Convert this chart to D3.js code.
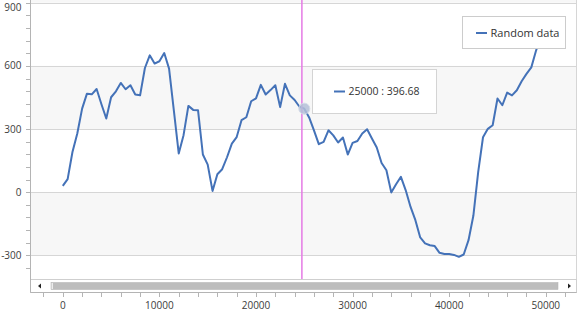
<!DOCTYPE html>
<html>
<head>
<meta charset="utf-8">
<script src="https://cdn.jsdelivr.net/npm/d3@7"></script>
<style>
    body { margin: 0; background: #ffffff; }
    text { font-family: "Open Sans", "Noto Sans", sans-serif; }
</style>
</head>
<body>
<div id="my_dataviz"></div>
<script>
// series (x every 500, y)
var xValues = [0, 500, 1000, 1500, 2000, 2500, 3000, 3500, 4000, 4500,
    5000, 5500, 6000, 6500, 7000, 7500, 8000, 8500, 9000, 9500,
    10000, 10500, 11000, 11500, 12000, 12500, 13000, 13500, 14000, 14500,
    15000, 15500, 16000, 16500, 17000, 17500, 18000, 18500, 19000, 19500,
    20000, 20500, 21000, 21500, 22000, 22500, 23000, 23500, 24000, 24500,
    25000, 25500, 26000, 26500, 27000, 27500, 28000, 28500, 29000, 29500,
    30000, 30500, 31000, 31500, 32000, 32500, 33000, 33500, 34000, 34500,
    35000, 35500, 36000, 36500, 37000, 37500, 38000, 38500, 39000, 39500,
    40000, 40500, 41000, 41500, 42000, 42500, 43000, 43500, 44000, 44500,
    45000, 45500, 46000, 46500, 47000, 47500, 48000, 48500, 49000, 49500, 50000];
var yValues = [30, 62, 191, 279, 397, 468, 465, 490, 418, 350,
    451, 479, 519, 489, 508, 464, 460, 590, 650, 611,
    622, 661, 587, 386, 184, 271, 410, 391, 389, 179,
    131, 6, 85, 109, 166, 231, 262, 342, 356, 432,
    446, 510, 464, 485, 508, 404, 515, 460, 438, 406,
    396.68, 355, 294, 228, 239, 294, 270, 236, 260, 179,
    234, 243, 279, 299, 255, 212, 139, 104, -1, 38,
    73, 9, -70, -133, -215, -243, -252, -256, -288, -294,
    -294, -298, -307, -296, -228, -112, 95, 261, 301, 318,
    445, 413, 473, 460, 484, 527, 562, 593, 674, 740, 800];
var seriesName = "Random data";

// axes
var yTickLabels = [-300, 0, 300, 600, 900];
var xTickLabels = [0, 10000, 20000, 30000, 40000, 50000];
var shadedBands = [[-300, 0], [300, 600], [900, 1200]];

// tracker
var trackerIndex = 50;
var crosshairX = 24750;

var data = xValues.map(function (d, i) { return { x: d, y: yValues[i] }; });

var width = 580, height = 310;
var plotLeft = 30.5, plotRight = 576.5, plotTop = 0, plotBottom = 292.5;
var scrollTop = 279.5;

var svg = d3.select("#my_dataviz")
    .append("svg")
    .attr("width", width)
    .attr("height", height);

var xScale = d3.scaleLinear().domain([-3344, 53178]).range([plotLeft, plotRight]);
var yScale = d3.scaleLinear().domain([-476.5, 913]).range([plotBottom, plotTop]);

// bands
svg.append("g")
    .selectAll("rect")
    .data(shadedBands)
    .enter()
    .append("rect")
    .attr("x", plotLeft)
    .attr("width", plotRight - plotLeft)
    .attr("y", function (d) { return Math.max(plotTop, yScale(d[1])); })
    .attr("height", function (d) { return yScale(d[0]) - Math.max(plotTop, yScale(d[1])); })
    .style("fill", "#f7f7f7");

// gridlines
svg.append("g")
    .selectAll("line")
    .data(yTickLabels)
    .enter()
    .append("line")
    .attr("x1", plotLeft)
    .attr("x2", plotRight)
    .attr("y1", function (d) { return Math.round(yScale(d)) + 0.5; })
    .attr("y2", function (d) { return Math.round(yScale(d)) + 0.5; })
    .style("stroke", "#d6d6d6");

// right border
svg.append("line")
    .attr("x1", plotRight).attr("x2", plotRight)
    .attr("y1", plotTop).attr("y2", plotBottom)
    .style("stroke", "#d6d6d6");

// line
svg.append("clipPath").attr("id", "plotclip")
    .append("rect")
    .attr("x", plotLeft).attr("y", plotTop)
    .attr("width", plotRight - plotLeft).attr("height", scrollTop - plotTop);

svg.append("path")
    .datum(data)
    .attr("clip-path", "url(#plotclip)")
    .attr("d", d3.line().x(function (d) { return xScale(d.x); }).y(function (d) { return yScale(d.y); }))
    .style("fill", "none")
    .style("stroke", "#4472b8")
    .style("stroke-width", 2)
    .style("stroke-linejoin", "round");

// crosshair
svg.append("line")
    .attr("x1", xScale(crosshairX)).attr("x2", xScale(crosshairX))
    .attr("y1", plotTop).attr("y2", scrollTop)
    .style("stroke", "#e57ae5")
    .style("stroke-width", 1.5);

// tracker point
var tp = data[trackerIndex];
svg.append("circle")
    .attr("cx", xScale(tp.x))
    .attr("cy", yScale(tp.y))
    .attr("r", 5.5)
    .style("fill", "#b4c0d8")
    .style("fill-opacity", 0.85)
    .style("stroke", "#d4dbe8")
    .style("stroke-width", 1);

// tooltip
var tipX = Math.round(xScale(tp.x)) + 8.5;
var tipY = Math.round(yScale(tp.y)) - 39.5;
var tip = svg.append("g").attr("transform", "translate(" + tipX + "," + tipY + ")");
tip.append("rect")
    .attr("width", 124).attr("height", 44)
    .style("fill", "#ffffff")
    .style("stroke", "#d4d4d4");
tip.append("line")
    .attr("x1", 21.5).attr("x2", 32.5).attr("y1", 22).attr("y2", 22)
    .style("stroke", "#4472b8").style("stroke-width", 2);
tip.append("text")
    .attr("x", 36).attr("y", 22).attr("dy", "0.35em")
    .style("font-size", "10.5px").style("fill", "#333333")
    .text(tp.x + " : " + tp.y.toFixed(2));

// legend
var legend = svg.append("g").attr("transform", "translate(462.5,16.5)");
legend.append("rect")
    .attr("width", 103).attr("height", 32)
    .style("fill", "#ffffff")
    .style("stroke", "#cccccc");
legend.append("line")
    .attr("x1", 13.5).attr("x2", 24.5).attr("y1", 16.5).attr("y2", 16.5)
    .style("stroke", "#4472b8").style("stroke-width", 2);
legend.append("text")
    .attr("x", 28).attr("y", 16.5).attr("dy", "0.35em")
    .style("font-size", "11px").style("fill", "#333333")
    .text(seriesName);

// scrollbar
svg.append("rect")
    .attr("x", plotLeft).attr("y", scrollTop)
    .attr("width", plotRight - plotLeft).attr("height", plotBottom - scrollTop)
    .style("fill", "#ffffff")
    .style("stroke", "#cfcfcf");
svg.append("rect")
    .attr("x", 51).attr("y", 282.5)
    .attr("width", 507).attr("height", 7)
    .style("fill", "#bdbdbd")
    .style("stroke", "#b0b0b0")
    .style("stroke-width", 0.5);
svg.append("rect")
    .attr("x", 51.5).attr("y", 283)
    .attr("width", 1.5).attr("height", 6)
    .style("fill", "#ececec");
svg.append("path")
    .attr("d", "M38,286 L41,283.5 L41,288.5 Z")
    .style("fill", "#222222");
svg.append("path")
    .attr("d", "M571,286 L568,283.5 L568,288.5 Z")
    .style("fill", "#222222");

// Y axis
var yMinor = d3.range(-420, 901, 60).filter(function (d) { return yScale(d) < scrollTop; });
svg.append("g")
    .selectAll("line")
    .data(yMinor)
    .enter()
    .append("line")
    .attr("x1", plotLeft - 4.5).attr("x2", plotLeft)
    .attr("y1", function (d) { return Math.round(yScale(d)) + 0.5; })
    .attr("y2", function (d) { return Math.round(yScale(d)) + 0.5; })
    .style("stroke", "#b4b4b4");
svg.append("line")
    .attr("x1", plotLeft).attr("x2", plotLeft)
    .attr("y1", plotTop).attr("y2", plotBottom)
    .style("stroke", "#b4b4b4");
svg.append("g")
    .selectAll("text")
    .data(yTickLabels)
    .enter()
    .append("text")
    .attr("x", 21.5)
    .attr("y", function (d) { return Math.max(yScale(d), 7); })
    .attr("dy", "0.35em")
    .attr("text-anchor", "end")
    .style("font-size", "10px")
    .style("fill", "#3c3c3c")
    .text(function (d) { return d; });

// X axis
var xMinor = d3.range(-2000, 52001, 2000);
svg.append("line")
    .attr("x1", plotLeft).attr("x2", plotRight)
    .attr("y1", plotBottom).attr("y2", plotBottom)
    .style("stroke", "#b4b4b4");
svg.append("g")
    .selectAll("line")
    .data(xMinor)
    .enter()
    .append("line")
    .attr("x1", function (d) { return Math.round(xScale(d)) + 0.5; })
    .attr("x2", function (d) { return Math.round(xScale(d)) + 0.5; })
    .attr("y1", plotBottom).attr("y2", plotBottom + 4.5)
    .style("stroke", "#b4b4b4");
svg.append("g")
    .selectAll("text")
    .data(xTickLabels)
    .enter()
    .append("text")
    .attr("x", function (d) { return xScale(d); })
    .attr("y", 305)
    .attr("dy", "0.35em")
    .attr("text-anchor", "middle")
    .style("font-size", "10px")
    .style("fill", "#3c3c3c")
    .text(function (d) { return d; });
</script>
</body>
</html>
